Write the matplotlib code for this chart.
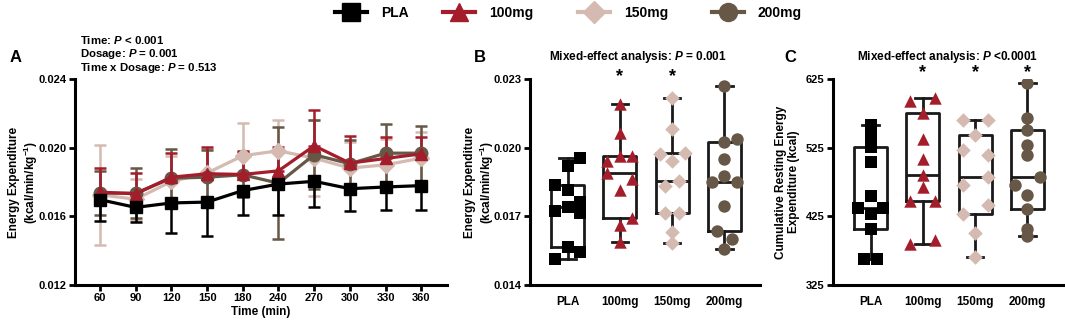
import matplotlib.pyplot as plt
import numpy as np
from matplotlib.lines import Line2D

plt.rcParams['font.family'] = ['Liberation Sans', 'DejaVu Sans']
plt.rcParams['font.weight'] = 'bold'
plt.rcParams['mathtext.fontset'] = 'custom'
plt.rcParams['mathtext.it'] = 'Liberation Sans:italic:bold'
plt.rcParams['mathtext.rm'] = 'Liberation Sans:bold'

# ---------------- data ----------------
groups = ['PLA', '100mg', '150mg', '200mg']
colors = ['#000000', '#A31D2B', '#D4BAB0', '#675746']
markers = ['s', '^', 'D', 'o']
# which side of the SD bar GraphPad shows for each group
bar_side = ['lower', 'upper', 'both', 'both']

times = ['60', '90', '120', '150', '180', '240', '270', '300', '330', '360']

# Panel A: mean energy expenditure over time (kcal/min/kg^-1)
mean_pla = [0.01697, 0.01652, 0.01678, 0.01683, 0.01750, 0.01788, 0.01804, 0.01761, 0.01771, 0.01779]
mean_100 = [0.01741, 0.01731, 0.01828, 0.01848, 0.01844, 0.01865, 0.02011, 0.01910, 0.01937, 0.01964]
mean_150 = [0.01725, 0.01700, 0.01803, 0.01852, 0.01953, 0.01982, 0.01939, 0.01881, 0.01900, 0.01939]
mean_200 = [0.01735, 0.01735, 0.01822, 0.01828, 0.01842, 0.01793, 0.01959, 0.01906, 0.01968, 0.01968]

sd_pla = [0.00126, 0.00087, 0.00175, 0.00196, 0.00140, 0.00180, 0.00150, 0.00128, 0.00132, 0.00144]
sd_100 = [0.00140, 0.00124, 0.00140, 0.00155, 0.00134, 0.00138, 0.00210, 0.00160, 0.00126, 0.00098]
sd_150 = [0.00290, 0.00120, 0.00150, 0.00140, 0.00190, 0.00180, 0.00220, 0.00150, 0.00150, 0.00150]
sd_200 = [0.00130, 0.00146, 0.00170, 0.00160, 0.00130, 0.00325, 0.00200, 0.00140, 0.00170, 0.00160]

# Panel B: individual mean energy expenditure
ee_pla = [0.01956, 0.01922, 0.01836, 0.01817, 0.01761, 0.01739, 0.01725, 0.01715, 0.01568, 0.01543, 0.01513]
ee_100 = [0.02190, 0.02063, 0.01941, 0.01963, 0.01963, 0.01890, 0.01861, 0.01817, 0.01693, 0.01663, 0.01590]
ee_150 = [0.02217, 0.02083, 0.01971, 0.01978, 0.01941, 0.01854, 0.01832, 0.01715, 0.01715, 0.01630, 0.01583]
ee_200 = [0.02268, 0.02040, 0.02025, 0.01949, 0.01876, 0.01850, 0.01850, 0.01744, 0.01634, 0.01602, 0.01557]

# Panel C: cumulative resting energy expenditure (kcal)
cree_pla = [558, 541, 526, 504, 455, 437, 437, 429, 407, 363, 363]
cree_100 = [598, 593, 575, 537, 509, 485, 468, 448, 448, 391, 384]
cree_150 = [565, 565, 544, 522, 514, 483, 470, 441, 429, 401, 366]
cree_200 = [619, 568, 551, 529, 514, 482, 470, 456, 435, 407, 397]

means = [mean_pla, mean_100, mean_150, mean_200]
sds = [sd_pla, sd_100, sd_150, sd_200]
ee = [ee_pla, ee_100, ee_150, ee_200]
cree = [cree_pla, cree_100, cree_150, cree_200]

# horizontal spread of the dots inside each box (-1 left, 0 centre, 1 right)
spread_b = [[1, 0, -1, 0, 1, 0, -1, 1, 0, 1, -1],
            [0, 0, -1, 0, 1, -1, 1, 0, 1, 0, 0],
            [0, 0, -1, 1, 0, 0.55, -0.55, -0.55, 0.55, 0, 0],
            [0, 1, 0, 0, 0, -1, 1, 0, -0.6, 0.6, 0]]
spread_c = [[0, 0, 0, 0, 0, -1, 1, 0, 0, -0.5, 0.5],
            [1, -1, 0, 0, 0, 0, 0, -1, 1, 1, -1],
            [-1, 1, 0, -1, 1, 1, -1, 1, -1, 0, 0],
            [0, 0, 0, 0, 0, 1, -1, 0, 0, 0, 0]]

# ---------------- figure ----------------
fig = plt.figure(figsize=(10.65, 3.27), dpi=100)
H = 327.0
W = 1065.0


def make_ax(x0, x1, y0=79, y1=285):
    return fig.add_axes([x0 / W, 1 - y1 / H, (x1 - x0) / W, (y1 - y0) / H])


def style(ax):
    for s in ['top', 'right']:
        ax.spines[s].set_visible(False)
    for s in ['left', 'bottom']:
        ax.spines[s].set_linewidth(2.2)
    ax.tick_params(width=2, length=4, labelsize=8, pad=2)
    for lab in ax.get_xticklabels() + ax.get_yticklabels():
        lab.set_fontweight('bold')


# Panel A
axA = make_ax(75, 447)
x = np.arange(len(times))
for i in [2, 3, 1, 0]:
    sd = np.array(sds[i])
    zero = np.zeros_like(sd)
    if bar_side[i] == 'lower':
        err = [sd, zero]
    elif bar_side[i] == 'upper':
        err = [zero, sd]
    else:
        err = [sd, sd]
    axA.errorbar(x, means[i], yerr=err, color=colors[i], marker=markers[i],
                 markersize=9 if markers[i] != 'D' else 8, linewidth=2.3,
                 elinewidth=1.8, capsize=4.5, capthick=1.8, zorder=3 + (i == 0))
axA.set_xlim(-0.7, 9.72)
axA.set_ylim(0.012, 0.024)
axA.set_yticks([0.012, 0.016, 0.020, 0.024])
axA.set_yticklabels(['0.012', '0.016', '0.020', '0.024'])
axA.set_xticks(x)
axA.set_xticklabels(times)
axA.set_xlabel('Time (min)', fontsize=8.5, fontweight='bold', labelpad=2)
axA.set_ylabel('Energy Expenditure\n(kcal/min/kg$^{\\mathregular{-1}}$)', fontsize=8.5,
               fontweight='bold', linespacing=1.1)
axA.yaxis.set_label_coords(-0.095, 0.5)
style(axA)


def quartile_stats(values):
    # GraphPad-style quartiles
    v = np.asarray(values, dtype=float)
    q1, med, q3 = np.percentile(v, [25, 50, 75], method='weibull')
    return dict(med=med, q1=q1, q3=q3, whislo=v.min(), whishi=v.max(), fliers=[])


def boxpanel(ax, data, spread, ylim, yticks, ylabels, ylabel, label_x):
    pos = np.arange(len(groups))
    lp = dict(linewidth=2, color='#1a1a1a')
    ax.bxp([quartile_stats(d) for d in data], positions=pos, widths=0.63,
           showfliers=False, boxprops=lp, whiskerprops=lp, capprops=lp,
           medianprops=lp)
    for i in range(len(groups)):
        xs = pos[i] + 0.24 * np.array(spread[i])
        ax.scatter(xs, data[i], marker=markers[i], color=colors[i],
                   s=80 if markers[i] != 'D' else 55, zorder=3, linewidths=0)
    ax.set_xlim(-0.72, 3.68)
    ax.set_ylim(*ylim)
    ax.set_yticks(yticks)
    ax.set_yticklabels(ylabels)
    ax.set_xticks(pos)
    ax.set_xticklabels(groups)
    ax.set_ylabel(ylabel, fontsize=8.5, fontweight='bold', linespacing=1.1)
    ax.yaxis.set_label_coords(label_x, 0.5)
    style(ax)
    ax.tick_params(axis='x', length=0, pad=8, labelsize=8.5)


axB = make_ax(530, 760)
boxpanel(axB, ee, spread_b, (0.014, 0.023), [0.014, 0.017, 0.020, 0.023],
         ['0.014', '0.017', '0.020', '0.023'],
         'Energy Expenditure\n(kcal/min/kg$^{\\mathregular{-1}}$)', -0.148)
for i in [1, 2]:
    axB.text(i, 0.0231, '*', ha='center', va='center', fontsize=13, fontweight='bold')

axC = make_ax(833, 1063)
boxpanel(axC, cree, spread_c, (325, 625), [325, 425, 525, 625],
         ['325', '425', '525', '625'],
         'Cumulative Resting Energy\nExpenditure (kcal)', -0.145)
for i in [1, 2, 3]:
    axC.text(i, 634, '*', ha='center', va='center', fontsize=13, fontweight='bold')

# panel letters and stats text
fig.text(10 / W, 1 - 58 / H, 'A', fontsize=12, fontweight='bold', va='center')
fig.text(474 / W, 1 - 57 / H, 'B', fontsize=12, fontweight='bold', va='center')
fig.text(784 / W, 1 - 57 / H, 'C', fontsize=12, fontweight='bold', va='center')

fig.text(80 / W, 1 - 40 / H, 'Time: $P$ < 0.001', fontsize=8.2, fontweight='bold', va='center')
fig.text(80 / W, 1 - 54 / H, 'Dosage: $P$ = 0.001', fontsize=8.2, fontweight='bold', va='center')
fig.text(80 / W, 1 - 68 / H, 'Time x Dosage: $P$ = 0.513', fontsize=8.2, fontweight='bold', va='center')

fig.text(638 / W, 1 - 57 / H, 'Mixed-effect analysis: $P$ = 0.001', fontsize=8.5,
         fontweight='bold', ha='center', va='center')
fig.text(947 / W, 1 - 57 / H, 'Mixed-effect analysis: $P$ <0.0001', fontsize=8.5,
         fontweight='bold', ha='center', va='center')

# legend: one entry per group, spaced as in the original
legend_x = [335, 443, 578, 712]
for i in range(len(groups)):
    h = Line2D([0], [0], color=colors[i], marker=markers[i], linewidth=3,
               markersize=13 if markers[i] != 'D' else 11)
    fig.legend([h], [groups[i]], loc='center left',
               bbox_to_anchor=(legend_x[i] / W, 1 - 13 / H), frameon=False,
               handlelength=2.3, handletextpad=1.0, borderpad=0, borderaxespad=0,
               prop=dict(weight='bold', size=10))

fig.savefig('out.png', dpi=100)
